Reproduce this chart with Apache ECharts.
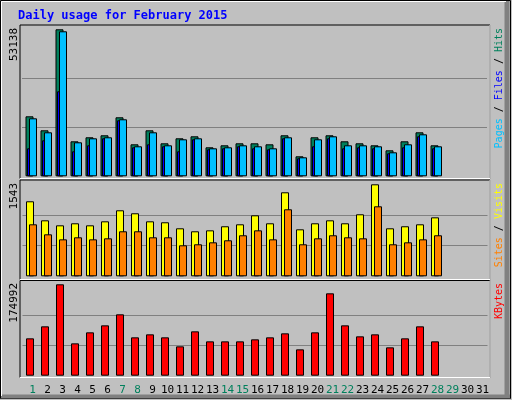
<!DOCTYPE html>
<html><head><meta charset="utf-8">
<script src="https://cdn.jsdelivr.net/npm/echarts@6/dist/echarts.min.js"></script>
<style>html,body{margin:0;padding:0;background:#c0c0c0}#c{width:512px;height:400px}</style>
</head><body><div id="c"></div>
<script>
const days = Array.from({length:31},(_,i)=>String(i+1));
const weekendDays = ['1','7','8','14','15','21','22','28','29'];
const hits  = [21690,16629,53138,12653,14099,14822,21329,11568,16629,11930,13737,14460,10484,11207,11930,11930,11568,14822,7230,14099,14822,12653,11930,11207,9399,12653,15906,11207];
const files = [20967,15906,52418,12291,13737,14099,20606,10845,15906,11207,13376,13737,10122,10484,11207,10845,10122,14099,6869,13376,14460,11207,11207,10845,8676,11568,15183,10845];
const pages = [10122,13014,30728,9038,11207,13737,20244,10484,11568,10845,9038,13376,9761,10122,10845,10122,9761,13737,6507,10845,13737,10122,10484,10122,8315,10484,14460,10122];
const visits = [1258,939,855,889,855,922,1107,1057,922,906,805,755,771,839,872,1023,889,1409,788,889,939,889,1040,1543,805,839,872,989];
const sites  = [872,704,620,654,620,637,755,755,654,654,520,537,570,604,688,771,620,1124,537,637,688,654,637,1174,537,570,620,688];
const kbytes = [71527,94513,174992,61944,83018,96429,117502,73439,79186,73439,56197,84934,65776,65776,65776,69607,73439,81102,50449,83018,157734,96429,75355,79186,54281,71527,94513,65776];
const maxHits = 53138, maxVisits = 1543, maxKB = 174992;

const W = 465;
const panels = [
  {top:29.3, h:147, max:maxHits},
  {top:184.3, h:92, max:maxVisits},
  {top:284.3, h:91.4, max:maxKB}
];
const layers = [
  {p:0, left:22, data:hits, color:'#00805c', w:8, split:true},
  {p:0, left:22.5, data:pages, color:'#0000ff', w:6},
  {p:0, left:25.5, data:files, color:'#00c0ff', w:8},
  {p:1, left:22.5, data:visits, color:'#ffff00', w:8, split:true},
  {p:1, left:25.5, data:sites, color:'#ff8000', w:8},
  {p:2, left:22.5, data:kbytes, color:'#ff0000', w:8, split:true}
];
const grid=[], xAxis=[], yAxis=[], series=[];
layers.forEach((l,i)=>{
  const P=panels[l.p];
  grid.push({left:l.left, width:W, top:P.top, height:P.h});
  xAxis.push({type:'category', data:days, gridIndex:i, show:false});
  yAxis.push({type:'value', gridIndex:i, min:0, max:P.max, interval:P.max/3,
    axisLabel:{show:false}, axisLine:{show:false}, axisTick:{show:false},
    splitLine:{show:!!l.split, lineStyle:{color:['transparent','#808080','#808080','transparent'], width:1}}});
  series.push({type:'bar', xAxisIndex:i, yAxisIndex:i, data:l.data, barWidth:l.w, silent:true,
    itemStyle:{color:l.color, borderColor:'#000', borderWidth:1}, animation:false});
});
// label axis
grid.push({left:25, width:W, top:377, height:1});
xAxis.push({type:'category', data:days, gridIndex:6, axisLine:{show:false}, axisTick:{show:false},
  axisLabel:{interval:0, margin:7, fontFamily:'DejaVu Sans Mono', fontSize:11,
    formatter:v=>weekendDays.includes(v)?'{g|'+v+'}':'{k|'+v+'}',
    rich:{g:{color:'#00805c',fontFamily:'DejaVu Sans Mono',fontSize:11},k:{color:'#000',fontFamily:'DejaVu Sans Mono',fontSize:11}}}});
yAxis.push({type:'value', gridIndex:6, show:false});

const mono='DejaVu Sans Mono';
function panelBox(y1,y2){
  return [
    {type:'rect', shape:{x:20,y:y1,width:470,height:y2-y1}, style:{fill:'#c0c0c0',stroke:'#000',lineWidth:1}, z:-10},
    {type:'line', shape:{x1:20,y1:y2,x2:490,y2:y2}, style:{stroke:'#fff',lineWidth:1}, z:-9},
    {type:'line', shape:{x1:490,y1:y1,x2:490,y2:y2}, style:{stroke:'#fff',lineWidth:1}, z:-9}
  ];
}
function vtext(x,y,rich,text,size){
  return {type:'text', x:x, y:y, rotation:Math.PI/2, style:{text:text, rich:rich, font:size+'px '+mono, align:'right', verticalAlign:'middle', fill:'#000'}};
}
const graphic=[
  {type:'rect', shape:{x:0.5,y:0.5,width:510,height:398}, style:{fill:'#c0c0c0',stroke:'#000',lineWidth:1}, z:-20},
  {type:'line', shape:{x1:507,y1:1,x2:507,y2:398}, style:{stroke:'#808080',lineWidth:5}, z:-19},
  {type:'line', shape:{x1:1,y1:396.5,x2:510,y2:396.5}, style:{stroke:'#808080',lineWidth:4}, z:-19},
  {type:'line', shape:{x1:1.5,y1:1.5,x2:1.5,y2:396}, style:{stroke:'#fff',lineWidth:1}, z:-18},
  {type:'line', shape:{x1:1.5,y1:1.5,x2:506,y2:1.5}, style:{stroke:'#fff',lineWidth:1}, z:-18},
  ...panelBox(25,178.5), ...panelBox(180,279.5), ...panelBox(280.5,377.5),
  {type:'text', x:18, y:16, style:{text:'Daily usage for February 2015', font:'bold 12px '+mono, fill:'#0000ff', verticalAlign:'middle'}},
  vtext(14,28,{},String(maxHits),11),
  vtext(14,183,{},String(maxVisits),11),
  vtext(14,283,{},String(maxKB),11),
  vtext(499,28,{p:{fill:'#00c0ff'},f:{fill:'#0000ff'},h:{fill:'#00805c'},s:{fill:'#000'}},'{p|Pages}{s| / }{f|Files}{s| / }{h|Hits}',10),
  vtext(499,183,{a:{fill:'#ff8000'},b:{fill:'#ffff00'},s:{fill:'#000'}},'{a|Sites}{s| / }{b|Visits}',10),
  vtext(499,283,{k:{fill:'#ff0000'}},'{k|KBytes}',10)
];
graphic.forEach(g=>{ if(g.type==='text' && g.style.rich){ for(const k in g.style.rich){ g.style.rich[k].font=g.style.font; } } });
const chart=echarts.init(document.getElementById('c'));
chart.setOption({animation:false, backgroundColor:'#c0c0c0', grid, xAxis, yAxis, series, graphic});
</script></body></html>
